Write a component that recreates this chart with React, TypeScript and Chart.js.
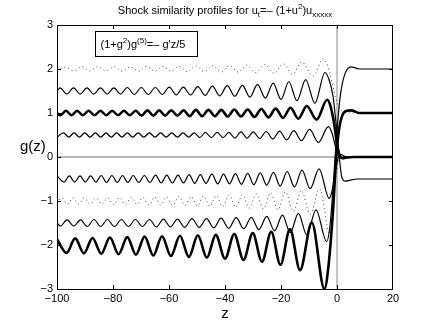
import React, { useEffect, useRef } from 'react';
import { Chart, registerables } from 'chart.js';

Chart.register(...registerables);

const FONT = "'Liberation Sans', Arial, Helvetica, sans-serif";

// Axis ranges and tick labels
const X_MIN = -100;
const X_MAX = 20;
const Y_MIN = -3;
const Y_MAX = 3;
const X_TICKS = [-100, -80, -60, -40, -20, 0, 20];
const Y_TICKS = [-3, -2, -1, 0, 1, 2, 3];

// Texts
const TITLE = [
  { t: 'Shock similarity profiles for u' },
  { t: 't', k: 'sub' },
  { t: '=\u2013 (1+u' },
  { t: '2', k: 'sup' },
  { t: ')u' },
  { t: 'xxxxx', k: 'sub' },
];
const LEGEND = [
  { t: '(1+g' },
  { t: '2', k: 'sup' },
  { t: ')g' },
  { t: '(5)', k: 'sup' },
  { t: "=\u2013 g'z/5" },
];
const X_LABEL = 'z';
const Y_LABEL = 'g(z)';

// Profiles: [z, g] read at the extrema of each curve
const thickFromMinus2: [number, number][] = [
  [-100, -1.87], [-96.6, -2.18], [-93.5, -1.85], [-90.4, -2.19], [-87.3, -1.84], [-84.2, -2.2],
  [-81.1, -1.83], [-78, -2.21], [-74.9, -1.82], [-71.8, -2.22], [-68.7, -1.81], [-65.6, -2.24],
  [-62.5, -1.8], [-59.3, -2.25], [-56.1, -1.79], [-52.9, -2.27], [-49.7, -1.78], [-46.5, -2.29],
  [-43.3, -1.77], [-40, -2.31], [-36.7, -1.75], [-33.4, -2.34], [-30.1, -1.73], [-26.8, -2.38],
  [-23.5, -1.7], [-20.2, -2.45], [-16.8, -1.64], [-13.2, -2.57], [-9, -1.49], [-4.5, -3],
  [-3, -2.45], [-1.3, -1.1], [-0.3, 0], [0.7, 0.62], [1.8, 0.93], [3.5, 1.05], [5, 1.06],
  [8, 1.0], [20, 1.0],
];
const thinFromMinus15: [number, number][] = [
  [-100, -1.5], [-98.8, -1.57], [-96.4, -1.43], [-94, -1.57], [-91.6, -1.43], [-89.2, -1.58],
  [-86.8, -1.42], [-84.4, -1.58], [-82, -1.42], [-79.5, -1.58], [-77, -1.42], [-74.5, -1.58],
  [-72, -1.42], [-69.5, -1.58], [-67, -1.42], [-64.5, -1.59], [-62, -1.41], [-59.5, -1.59],
  [-57, -1.41], [-54.4, -1.6], [-51.8, -1.4], [-49.2, -1.6], [-46.6, -1.4], [-44, -1.61],
  [-41.4, -1.39], [-38.7, -1.62], [-36, -1.38], [-33.3, -1.63], [-30.6, -1.37], [-27.9, -1.65],
  [-25.1, -1.35], [-22.3, -1.68], [-19.5, -1.32], [-16.7, -1.72], [-13.8, -1.28], [-10.8, -1.77],
  [-7.5, -1.2], [-3.7, -1.92], [-2.4, -1.5], [-1.2, -0.5], [0, 0.6], [1.3, 1.45], [2.9, 1.9],
  [5, 2.05], [8, 2.0], [20, 2.0],
];
const thinFrom15: [number, number][] = [
  [-100, 1.5], [-98.9, 1.57], [-96.5, 1.43], [-94.1, 1.57], [-91.7, 1.43], [-89.3, 1.57],
  [-86.9, 1.43], [-84.5, 1.57], [-82.1, 1.43], [-79.7, 1.57], [-77.3, 1.43], [-74.9, 1.58],
  [-72.4, 1.42], [-69.9, 1.58], [-67.4, 1.42], [-64.9, 1.58], [-62.4, 1.42], [-59.9, 1.59],
  [-57.4, 1.41], [-54.9, 1.59], [-52.3, 1.41], [-49.7, 1.6], [-47.1, 1.4], [-44.5, 1.61],
  [-41.9, 1.39], [-39.2, 1.62], [-36.5, 1.38], [-33.8, 1.63], [-31.1, 1.36], [-28.4, 1.65],
  [-25.6, 1.34], [-22.8, 1.68], [-20, 1.31], [-17.2, 1.71], [-14.3, 1.28], [-11.2, 1.76],
  [-7.9, 1.22], [-4.3, 1.92], [-2.8, 1.75], [-1.4, 1.37], [-0.1, 0.61], [0.8, 0], [1.7, -0.45],
  [3, -0.55], [4.5, -0.53], [7, -0.5], [20, -0.5],
];
const thickFrom1: [number, number][] = [
  [-100, 1.0], [-98.8, 0.95], [-96.8, 1.05], [-94.8, 0.95], [-92.8, 1.05], [-90.8, 0.95],
  [-88.7, 1.05], [-86.6, 0.95], [-84.5, 1.05], [-82.4, 0.95], [-80.3, 1.05], [-78.2, 0.95],
  [-76.1, 1.05], [-74, 0.95], [-71.9, 1.05], [-69.8, 0.94], [-67.7, 1.06], [-65.6, 0.94],
  [-63.5, 1.06], [-61.4, 0.94], [-59.2, 1.06], [-57, 0.94], [-54.8, 1.06], [-52.6, 0.93],
  [-50.4, 1.07], [-48.2, 0.93], [-45.9, 1.07], [-43.6, 0.93], [-41.3, 1.07], [-39, 0.92],
  [-36.7, 1.08], [-34.3, 0.92], [-31.9, 1.08], [-29.5, 0.91], [-27, 1.09], [-24.5, 0.9],
  [-21.9, 1.1], [-19.3, 0.89], [-16.6, 1.12], [-13.8, 0.87], [-10.8, 1.16], [-7.3, 0.85],
  [-3.5, 1.3], [-2.3, 1.15], [-1, 0.75], [0, 0.3], [1, 0.02], [2, -0.03], [3.5, -0.01],
  [6, 0], [20, 0],
];
const thinFrom05: [number, number][] = [
  [-100, 0.45], [-97.7, 0.55], [-95.8, 0.45], [-93.9, 0.55], [-92, 0.45], [-90.1, 0.55],
  [-88.2, 0.45], [-86.3, 0.55], [-84.4, 0.45], [-82.5, 0.55], [-80.6, 0.45], [-78.7, 0.55],
  [-76.8, 0.45], [-74.9, 0.55], [-73, 0.45], [-71, 0.55], [-69, 0.45], [-67, 0.55],
  [-65, 0.45], [-63, 0.55], [-61, 0.45], [-59, 0.55], [-57, 0.45], [-55, 0.55], [-53, 0.45],
  [-51, 0.55], [-49, 0.44], [-47, 0.56], [-44.9, 0.44], [-42.8, 0.56], [-40.7, 0.44],
  [-38.6, 0.56], [-36.5, 0.43], [-34.3, 0.57], [-32.1, 0.43], [-29.9, 0.57], [-27.6, 0.42],
  [-25.3, 0.58], [-22.9, 0.41], [-20.5, 0.59], [-18, 0.39], [-15.4, 0.6], [-12.7, 0.37],
  [-9.8, 0.63], [-6.6, 0.33], [-3.1, 0.69], [-1.8, 0.55], [-0.6, 0.25], [0.5, 0.03],
  [1.5, -0.03], [3, 0], [20, 0],
];
const thinFromMinus05: [number, number][] = [
  [-100, -0.43], [-97.5, -0.57], [-95.6, -0.43], [-93.7, -0.57], [-91.8, -0.43], [-89.9, -0.57],
  [-88, -0.43], [-86.1, -0.57], [-84.2, -0.42], [-82.3, -0.58], [-80.4, -0.42], [-78.5, -0.58],
  [-76.6, -0.42], [-74.7, -0.58], [-72.8, -0.42], [-70.8, -0.58], [-68.8, -0.42], [-66.8, -0.58],
  [-64.8, -0.41], [-62.8, -0.59], [-60.8, -0.41], [-58.8, -0.59], [-56.8, -0.41], [-54.8, -0.59],
  [-52.8, -0.4], [-50.8, -0.6], [-48.8, -0.4], [-46.8, -0.6], [-44.7, -0.39], [-42.6, -0.61],
  [-40.5, -0.39], [-38.4, -0.61], [-36.3, -0.38], [-34.1, -0.62], [-31.9, -0.37], [-29.7, -0.63],
  [-27.4, -0.36], [-25.1, -0.64], [-22.7, -0.35], [-20.3, -0.66], [-17.8, -0.33], [-15.2, -0.68],
  [-12.5, -0.3], [-9.6, -0.72], [-6.4, -0.27], [-2.8, -0.94], [-1.7, -0.75], [-0.5, -0.3],
  [0.5, 0], [1.3, 0.06], [2.5, 0.02], [4, 0], [20, 0],
];
const dottedFrom2: [number, number][] = [
  [-100, 1.96], [-97, 2.04], [-94.1, 1.96], [-91.2, 2.05], [-88.3, 1.96], [-85.4, 2.05],
  [-82.5, 1.96], [-79.6, 2.05], [-76.7, 1.95], [-73.8, 2.05], [-70.9, 1.95], [-68, 2.06],
  [-65.1, 1.95], [-62.2, 2.06], [-59.3, 1.95], [-56.4, 2.06], [-53.4, 1.94], [-50.4, 2.07],
  [-47.4, 1.94], [-44.4, 2.07], [-41.4, 1.93], [-38.4, 2.08], [-35.3, 1.93], [-32.2, 2.09],
  [-29, 1.92], [-25.8, 2.1], [-22.5, 1.9], [-19.2, 2.12], [-15.9, 1.88], [-12.6, 2.16],
  [-8.6, 1.84], [-5, 2.23], [-3.2, 2.05], [-1.8, 1.7], [-0.5, 1.35], [0.8, 1.12], [2.2, 1.03],
  [4, 1], [20, 1],
];
const dottedFromMinus1: [number, number][] = [
  [-100, -1.05], [-98.3, -0.93], [-96.3, -1.07], [-94.3, -0.93], [-92.3, -1.07], [-90.3, -0.93],
  [-88.2, -1.07], [-86.1, -0.93], [-84, -1.07], [-81.9, -0.93], [-79.8, -1.08], [-77.7, -0.92],
  [-75.6, -1.08], [-73.5, -0.92], [-71.4, -1.08], [-69.3, -0.92], [-67.2, -1.09], [-65.1, -0.91],
  [-63, -1.09], [-60.9, -0.91], [-58.7, -1.1], [-56.5, -0.9], [-54.3, -1.1], [-52.1, -0.9],
  [-49.9, -1.11], [-47.7, -0.89], [-45.4, -1.12], [-43.1, -0.88], [-40.8, -1.13], [-38.5, -0.87],
  [-36.1, -1.14], [-33.7, -0.86], [-31.3, -1.16], [-28.8, -0.84], [-26.3, -1.18], [-23.7, -0.82],
  [-21.1, -1.2], [-18.4, -0.79], [-15.6, -1.24], [-12.7, -0.76], [-9.6, -1.3], [-6.2, -0.72],
  [-2.6, -1.75], [-1.6, -1.3], [-0.6, -0.55], [0.6, -0.08], [1.8, 0.02], [3, 0], [20, 0],
];
const zeroHorizontal: [number, number][] = [[-100, 0], [20, 0]];
const zeroVertical: [number, number][] = [[0, -3], [0, 3]];

type Seg = { t: string; k?: string };

function drawRich(ctx: CanvasRenderingContext2D, segs: Seg[], x: number, baseline: number, size: number, align: string) {
  const small = Math.round(size * 0.73);
  let w = 0;
  for (const s of segs) {
    ctx.font = `${s.k ? small : size}px ${FONT}`;
    w += ctx.measureText(s.t).width;
  }
  let cx = align === 'center' ? x - w / 2 : x;
  ctx.textAlign = 'left';
  ctx.textBaseline = 'alphabetic';
  ctx.fillStyle = '#000';
  for (const s of segs) {
    ctx.font = `${s.k ? small : size}px ${FONT}`;
    const dy = s.k === 'sub' ? size * 0.3 : s.k === 'sup' ? -size * 0.42 : 0;
    ctx.fillText(s.t, cx, baseline + dy);
    cx += ctx.measureText(s.t).width;
  }
}

const decorPlugin = {
  id: 'decor',
  afterDraw(chart: any) {
    const ctx: CanvasRenderingContext2D = chart.ctx;
    const { left, right, top, bottom } = chart.chartArea;
    const xs = chart.scales.x;
    const ys = chart.scales.y;
    ctx.save();
    ctx.strokeStyle = '#000';
    ctx.lineWidth = 1;
    ctx.strokeRect(left + 0.5, top + 0.5, right - left - 1, bottom - top);
    const tl = 4;
    ctx.beginPath();
    for (const v of X_TICKS) {
      if (v === X_MIN || v === X_MAX) continue;
      const px = Math.round(xs.getPixelForValue(v)) + 0.5;
      ctx.moveTo(px, bottom);
      ctx.lineTo(px, bottom - tl);
      ctx.moveTo(px, top);
      ctx.lineTo(px, top + tl);
    }
    for (const v of Y_TICKS) {
      if (v === Y_MIN || v === Y_MAX) continue;
      const py = Math.round(ys.getPixelForValue(v)) + 0.5;
      ctx.moveTo(left, py);
      ctx.lineTo(left + tl, py);
      ctx.moveTo(right, py);
      ctx.lineTo(right - tl, py);
    }
    ctx.stroke();

    // legend box
    ctx.fillStyle = '#fff';
    ctx.fillRect(95, 31, 102, 25);
    ctx.strokeRect(95.5, 31.5, 102, 25);
    drawRich(ctx, LEGEND as Seg[], 100.5, 48, 11, 'left');

    // title and axis labels
    drawRich(ctx, TITLE as Seg[], (left + right) / 2, 13.5, 11, 'center');
    ctx.fillStyle = '#000';
    ctx.font = `15px ${FONT}`;
    ctx.textAlign = 'center';
    ctx.textBaseline = 'alphabetic';
    ctx.fillText(X_LABEL, (left + right) / 2, 318);
    ctx.textAlign = 'left';
    ctx.fillText(Y_LABEL, 20, 151);
    ctx.restore();
  },
};

const toPts = (a: [number, number][]) => a.map(([x, y]) => ({ x, y }));

export default function App() {
  const ref = useRef<HTMLCanvasElement | null>(null);
  useEffect(() => {
    if (!ref.current) return;
    const curve = (data: [number, number][], width: number, dotted = false) => ({
      data: toPts(data),
      borderColor: dotted ? '#444' : '#000',
      borderWidth: width,
      borderDash: dotted ? [1, 3] : [],
      pointRadius: 0,
      cubicInterpolationMode: 'monotone' as const,
      fill: false,
    });
    const chart = new Chart(ref.current, {
      type: 'line',
      data: {
        datasets: [
          curve(thickFromMinus2, 2.6),
          curve(thickFrom1, 2.6),
          curve(thinFromMinus15, 1.2),
          curve(thinFrom15, 1.2),
          curve(thinFrom05, 1.2),
          curve(thinFromMinus05, 1.2),
          curve(dottedFrom2, 1, true),
          curve(dottedFromMinus1, 1, true),
          { data: toPts(zeroHorizontal), borderColor: '#707070', borderWidth: 1, pointRadius: 0, tension: 0 },
          { data: toPts(zeroVertical), borderColor: '#8a8a8a', borderWidth: 1, pointRadius: 0, tension: 0 },
        ] as any,
      },
      options: {
        animation: false,
        responsive: false,
        devicePixelRatio: 1,
        layout: { padding: { left: 0, top: 25, right: 42, bottom: 0 } },
        plugins: { legend: { display: false }, tooltip: { enabled: false }, title: { display: false } },
        events: [],
        scales: {
          x: {
            type: 'linear',
            min: X_MIN,
            max: X_MAX,
            afterBuildTicks: (s: any) => { s.ticks = X_TICKS.map((v) => ({ value: v })); },
            afterFit: (s: any) => { s.height = 37; },
            grid: { display: false, drawTicks: false },
            border: { display: false },
            ticks: {
              padding: 3,
              color: '#000',
              font: { family: FONT, size: 11 },
              maxRotation: 0,
              autoSkip: false,
              callback: (v: any) => String(v).replace('-', '\u2212'),
            },
          },
          y: {
            type: 'linear',
            min: Y_MIN,
            max: Y_MAX,
            afterBuildTicks: (s: any) => { s.ticks = Y_TICKS.map((v) => ({ value: v })); },
            afterFit: (s: any) => { s.width = 57; },
            grid: { display: false, drawTicks: false },
            border: { display: false },
            ticks: {
              padding: 4,
              color: '#000',
              font: { family: FONT, size: 11 },
              autoSkip: false,
              callback: (v: any) => String(v).replace('-', '\u2212'),
            },
          },
        },
      } as any,
      plugins: [decorPlugin],
    });
    return () => chart.destroy();
  }, []);
  return (
    <div style={{ position: 'absolute', left: 0, top: 0, width: 435, height: 326, background: '#fff' }}>
      <canvas ref={ref} width={435} height={326} style={{ width: 435, height: 326, display: 'block' }} />
    </div>
  );
}
